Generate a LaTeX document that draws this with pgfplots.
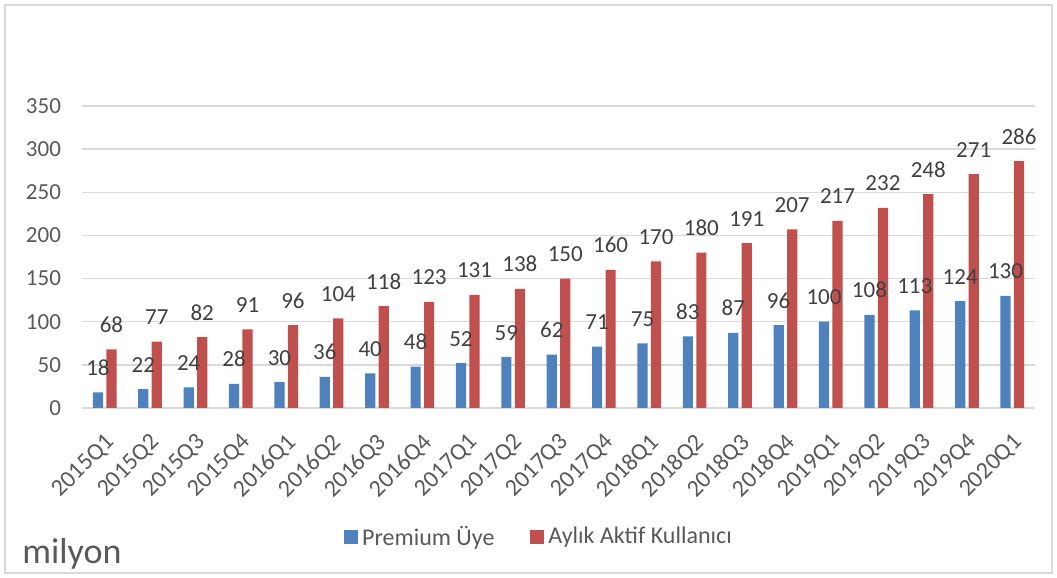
\documentclass[border=0pt]{standalone}
\usepackage{fontspec}
\setmainfont{Carlito}
\usepackage{pgfplots}
\pgfplotsset{compat=1.18}
\definecolor{pblue}{HTML}{4F81BD}
\definecolor{pred}{HTML}{C0504D}
\definecolor{gridc}{HTML}{D9D9D9}
\definecolor{txt}{HTML}{595959}
\definecolor{lbl}{HTML}{404040}
\newcommand{\fs}{\fontsize{11.5}{13}\selectfont}

\begin{document}
\begin{tikzpicture}
\useasboundingbox (-41pt,-85pt) rectangle (487.5pt,204pt);
\draw[gridc, line width=0.75pt] (-38.5pt,-82.5pt) rectangle (485pt,201.5pt);
\begin{axis}[
  scale only axis, width=476.5pt, height=151pt,
  ybar=1.65pt, bar width=5.1pt,
  ymin=0, ymax=350, ytick={0,50,...,350},
  xmin=-0.5, xmax=20.5, xtick={0,...,20},
  xticklabels={2015Q1,2015Q2,2015Q3,2015Q4,2016Q1,2016Q2,2016Q3,2016Q4,
    2017Q1,2017Q2,2017Q3,2017Q4,2018Q1,2018Q2,2018Q3,2018Q4,
    2019Q1,2019Q2,2019Q3,2019Q4,2020Q1},
  axis line style={draw=none},
  major tick length=0pt,
  ymajorgrids, grid style={gridc, line width=0.75pt},
  /pgf/number format/assume math mode=true,
  tick label style={font=\fs, text=txt},
  yticklabel style={xshift=-7pt},
  xticklabel style={xshift=5.5pt, yshift=-13pt, rotate=45, anchor=east, font=\fontsize{12}{14}\selectfont},
  nodes near coords,
  every node near coord/.append style={font=\fs, text=lbl, anchor=base, yshift=8.5pt},
  legend columns=2,
  legend style={at={(0.4806,-0.4272)}, anchor=center, draw=none,
    font=\fontsize{12}{14}\selectfont, text=txt,
    /tikz/every even column/.append style={column sep=16pt}},
  legend image code/.code={\fill[#1] (0pt,-3.5pt) rectangle (7pt,3.5pt);},
]
\addplot[fill=pblue, draw=none] coordinates {
  (0,18) (1,22) (2,24) (3,28) (4,30) (5,36) (6,40) (7,48) (8,52) (9,59) (10,62)
  (11,71) (12,75) (13,83) (14,87) (15,96) (16,100) (17,108) (18,113) (19,124) (20,130)
};
\addlegendentry{Premium Üye}
\addplot[fill=pred, draw=none] coordinates {
  (0,68) (1,77) (2,82) (3,91) (4,96) (5,104) (6,118) (7,123) (8,131) (9,138) (10,150)
  (11,160) (12,170) (13,180) (14,191) (15,207) (16,217) (17,232) (18,248) (19,271) (20,286)
};
\addlegendentry{Aylık Aktif Kullanıcı}
\end{axis}
\node[anchor=base west, inner sep=0pt, font=\fontsize{18}{20}\selectfont, text=txt] at (-30pt,-78pt) {milyon};
\end{tikzpicture}
\end{document}
